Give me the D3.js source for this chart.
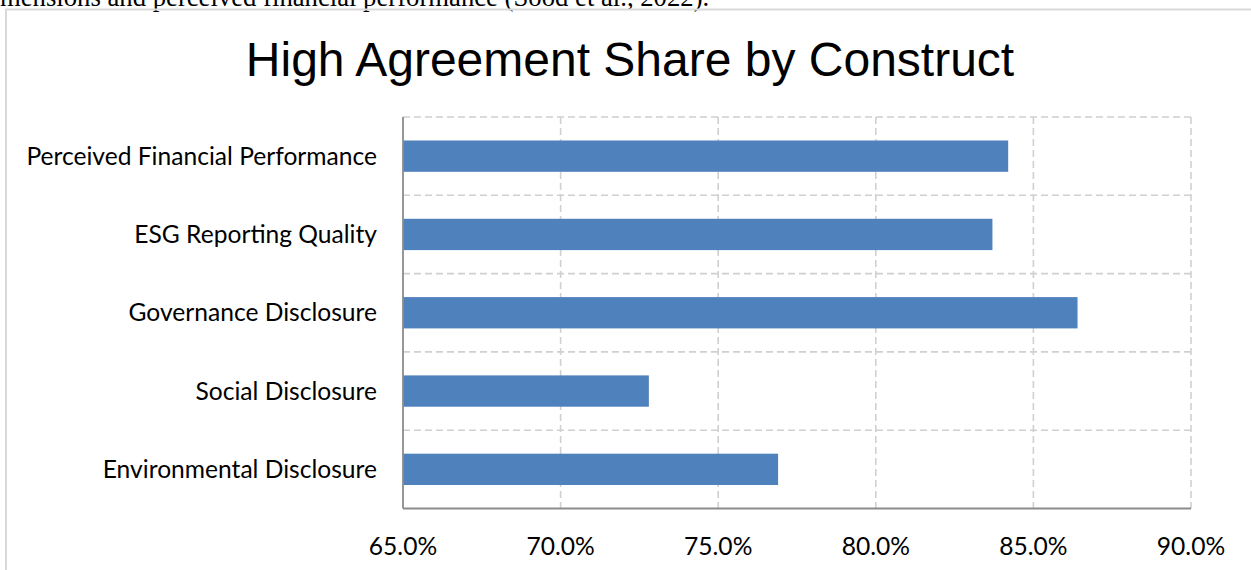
<!DOCTYPE html>
<html>
<head>
<meta charset="utf-8">
<script src="https://cdn.jsdelivr.net/npm/d3@7"></script>
<style>
  body { margin: 0; background: #fff; }
  svg { display: block; }
  .grid line { stroke: #d0d0d0; stroke-width: 1.6; stroke-dasharray: 7,4; }
  .cat, .tick-label { font-family: Lato, "Open Sans", sans-serif; font-size: 24.6px; fill: #000; }
</style>
</head>
<body>
<svg width="1251" height="570"></svg>
<script>
var constructs = ["Perceived Financial Performance", "ESG Reporting Quality", "Governance Disclosure", "Social Disclosure", "Environmental Disclosure"];
var highAgreement = [84.2, 83.7, 86.4, 72.8, 76.9];
var xTicks = [65, 70, 75, 80, 85, 90];

var data = constructs.map(function(c, i) { return {name: c, value: highAgreement[i]}; });

var svg = d3.select("svg"),
    margin = {top: 117, right: 60, bottom: 61.5, left: 403},
    width = +svg.attr("width") - margin.left - margin.right,
    height = +svg.attr("height") - margin.top - margin.bottom;

// leftover caption line from the document above the chart
svg.append("text")
    .attr("x", 0)
    .attr("y", 6)
    .style("font-family", "'Liberation Serif', 'Times New Roman', serif")
    .style("font-size", "26.7px")
    .text("mensions and perceived financial performance (Sood et al., 2022).");

// chart frame (only top and left edges are in view)
svg.append("path")
    .attr("d", "M6,570 L6,9.5 L1251,9.5")
    .attr("fill", "none")
    .attr("stroke", "#d9d9d9")
    .attr("stroke-width", 2);

svg.append("text")
    .attr("x", 630)
    .attr("y", 76)
    .attr("text-anchor", "middle")
    .style("font-family", "'Liberation Sans', Arial, sans-serif")
    .style("font-size", "48px")
    .text("High Agreement Share by Construct");

var x = d3.scaleLinear().domain([65, 90]).range([0, width]);
var y = d3.scaleBand().domain(constructs).range([0, height]).paddingInner(0.6).paddingOuter(0.3);

var g = svg.append("g")
    .attr("transform", "translate(" + margin.left + "," + margin.top + ")");

var grid = g.append("g").attr("class", "grid");

// horizontal grid at category boundaries
var rows = d3.range(constructs.length + 1).map(function(i) { return i * y.step(); });
grid.selectAll(".h")
    .data(rows.slice(0, -1))
    .enter().append("line")
    .attr("x1", 0).attr("x2", width)
    .attr("y1", function(d) { return d; })
    .attr("y2", function(d) { return d; });

grid.selectAll(".v")
    .data(xTicks.slice(1))
    .enter().append("line")
    .attr("x1", function(d) { return x(d); })
    .attr("x2", function(d) { return x(d); })
    .attr("y1", 0).attr("y2", height);

g.selectAll(".bar")
    .data(data)
    .enter().append("rect")
    .attr("class", "bar")
    .attr("x", 0)
    .attr("y", function(d) { return y(d.name); })
    .attr("width", function(d) { return x(d.value); })
    .attr("height", y.bandwidth())
    .attr("fill", "#4f81bd");

// axes lines
g.append("line")
    .attr("x1", 0).attr("x2", 0).attr("y1", 0).attr("y2", height)
    .attr("stroke", "#8c8c8c").attr("stroke-width", 1.8);
g.append("line")
    .attr("x1", 0).attr("x2", width).attr("y1", height).attr("y2", height)
    .attr("stroke", "#8c8c8c").attr("stroke-width", 1.8);

g.selectAll(".cat")
    .data(constructs)
    .enter().append("text")
    .attr("class", "cat")
    .attr("x", -26)
    .attr("y", function(d) { return y(d) + y.bandwidth() / 2; })
    .attr("dy", "0.35em")
    .attr("text-anchor", "end")
    .text(function(d) { return d; });

g.selectAll(".tick-label")
    .data(xTicks)
    .enter().append("text")
    .attr("class", "tick-label")
    .attr("x", function(d) { return x(d); })
    .attr("y", height + 46)
    .attr("text-anchor", "middle")
    .text(function(d) { return d3.format(".1f")(d) + "%"; });
</script>
</body>
</html>
